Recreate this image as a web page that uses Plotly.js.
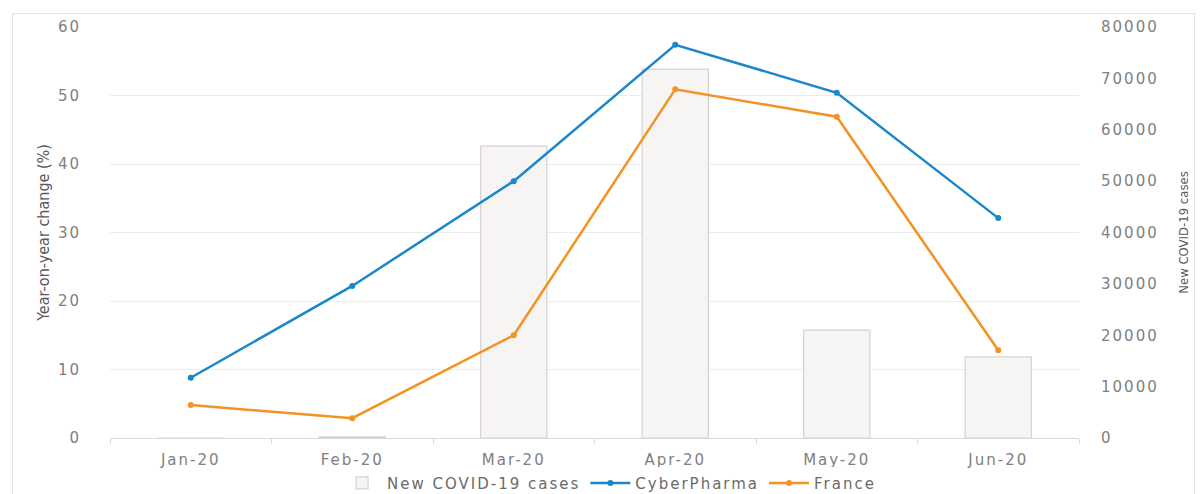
<!DOCTYPE html>
<html>
<head>
<meta charset="utf-8">
<script src="https://cdn.plot.ly/plotly-3.0.1.min.js"></script>
<style>
  html, body { margin: 0; padding: 0; background: #ffffff; }
  #wrap { position: relative; width: 1200px; height: 494px; }
  #chart { position: absolute; left: 0; top: 0; width: 1200px; height: 494px; }
  #frame { position: absolute; left: 12px; top: 13px; width: 1183px; height: 490px;
           border: 1px solid #e4e4e4; pointer-events: none; box-sizing: border-box; }
  /* wide tracking for tick and legend labels (also applies to Plotly's measuring copies) */
  .xtick text, .ytick text, .y2tick text, .legendtext {
    letter-spacing: 2px;
  }
</style>
</head>
<body>
<div id="wrap">
  <div id="chart"></div>
  <div id="frame"></div>
</div>
<script>
// Monthly data, January to June 2020
const months = ["Jan-20", "Feb-20", "Mar-20", "Apr-20", "May-20", "Jun-20"];
const newCases = [0, 200, 56800, 71800, 21000, 15800];
const cyberPharma = [8.8, 22.2, 37.5, 57.4, 50.4, 32.1];
const france = [4.8, 2.9, 15.0, 50.9, 46.9, 12.8];

const tickFont = { family: "DejaVu Sans, Verdana, sans-serif", size: 15, color: "#808080" };
const narrowFamily = "Liberation Sans Narrow, DejaVu Sans Condensed, Arial Narrow, sans-serif";

// Bars sit on the primary (right-hand) axis so the lines on the overlaying
// percentage axis are drawn on top of them.
const traces = [
  {
    type: "bar",
    name: "New COVID-19 cases",
    x: months,
    y: newCases,
    yaxis: "y",
    width: 0.41,
    marker: { color: "#f7f4f4", line: { color: "#d8d2d2", width: 1.2 } }
  },
  {
    type: "scatter",
    mode: "lines+markers",
    name: "CyberPharma",
    x: months,
    y: cyberPharma,
    yaxis: "y2",
    line: { color: "#1b87c9", width: 2.5 },
    marker: { color: "#1b87c9", size: 6 }
  },
  {
    type: "scatter",
    mode: "lines+markers",
    name: "France",
    x: months,
    y: france,
    yaxis: "y2",
    line: { color: "#f39323", width: 2.5 },
    marker: { color: "#f39323", size: 6 }
  }
];

const layout = {
  width: 1200,
  height: 494,
  margin: { l: 110, r: 121, t: 27, b: 56, autoexpand: false },
  paper_bgcolor: "#ffffff",
  plot_bgcolor: "#ffffff",
  showlegend: true,
  legend: {
    orientation: "h",
    x: 0.515, xanchor: "center",
    y: -0.11, yanchor: "middle",
    font: { family: "DejaVu Sans, Verdana, sans-serif", size: 15, color: "#6a6a6a" },
    traceorder: "normal",
    itemwidth: 40
  },
  xaxis: {
    type: "category",
    range: [-0.5, 5.5],
    tickfont: tickFont,
    tickson: "boundaries",
    ticks: "outside",
    ticklen: 5,
    tickcolor: "#d9d9d9",
    ticklabelstandoff: 8,
    showline: true,
    linecolor: "#d9d9d9",
    linewidth: 1,
    showgrid: false,
    zeroline: false,
    fixedrange: true
  },
  yaxis: {
    side: "right",
    range: [0, 80000],
    tickvals: [0, 10000, 20000, 30000, 40000, 50000, 60000, 70000, 80000],
    tickformat: "d",
    tickfont: tickFont,
    ticklabelstandoff: 21,
    showgrid: false,
    zeroline: false,
    showline: false,
    title: { text: "New COVID-19 cases", font: { family: narrowFamily, size: 13, color: "#595959" }, standoff: 21 }
  },
  yaxis2: {
    overlaying: "y",
    side: "left",
    range: [0, 60],
    tickvals: [0, 10, 20, 30, 40, 50, 60],
    tickfont: tickFont,
    ticklabelstandoff: 28,
    showgrid: true,
    gridcolor: "#ececec",
    gridwidth: 1,
    zeroline: false,
    showline: false,
    title: { text: "Year-on-year change (%)", font: { family: narrowFamily, size: 16, color: "#595959" }, standoff: 4 }
  }
};

Plotly.newPlot("chart", traces, layout, { displayModeBar: false, staticPlot: true });
</script>
</body>
</html>
